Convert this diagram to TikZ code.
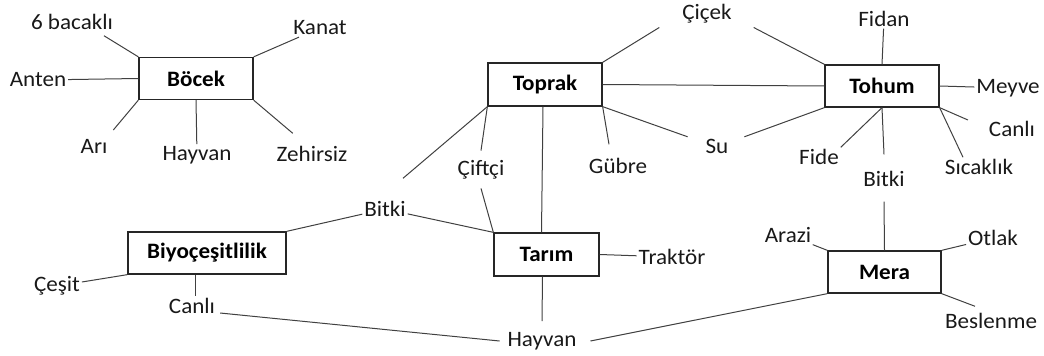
\documentclass[tikz,border=0pt]{standalone}
\usepackage{fontspec}
\setmainfont{Carlito}[FakeStretch=1.05]
\begin{document}
\begin{tikzpicture}[x=1pt,y=-1pt,
    kutu/.style={draw=black!85,line width=1.3pt,minimum height=42pt,inner sep=0pt,font=\bfseries},
    etiket/.style={inner sep=1.5pt,text=black!90},
    line width=1pt,draw=black!75]
  \fontsize{22}{26}\selectfont
  \useasboundingbox (0,0) rectangle (1044,356);
  % boxes
  \node[kutu,minimum width=114pt] (boecek) at (196,78.5) {Böcek};
  \node[kutu,minimum width=114pt,minimum height=43pt] (toprak) at (545,84.5) {Toprak};
  \node[kutu,minimum width=114pt] (tohum) at (882,86) {Tohum};
  \node[kutu,minimum width=158pt] (biyo) at (207,253) {Biyoçeşitlilik};
  \node[kutu,minimum width=105pt,minimum height=43pt] (tarim) at (546.5,254.5) {Tarım};
  \node[kutu,minimum width=113pt] (mera) at (884.5,272) {Mera};
  % words
  \node[etiket] (sixleg) at (72,22) {6 bacaklı};
  \node[etiket] (kanat) at (320,28) {Kanat};
  \node[etiket] (anten) at (38,80) {Anten};
  \node[etiket] (ari) at (94,146) {Arı};
  \node[etiket] (hayvanA) at (197,155) {Hayvan};
  \node[etiket] (zehir) at (312,154) {Zehirsiz};
  \node[etiket] (cicek) at (707,14) {Çiçek};
  \node[etiket] (ciftci) at (481,170) {Çiftçi};
  \node[etiket] (gubre) at (618,166) {Gübre};
  \node[etiket] (su) at (717,146) {Su};
  \node[etiket] (bitkiA) at (385,209) {Bitki};
  \node[etiket] (fidan) at (884,19) {Fidan};
  \node[etiket] (meyve) at (1008,88) {Meyve};
  \node[etiket] (canliA) at (1012,129) {Canlı};
  \node[etiket] (sicak) at (979,167) {Sıcaklık};
  \node[etiket] (fide) at (819,157) {Fide};
  \node[etiket] (bitkiB) at (884,179) {Bitki};
  \node[etiket] (arazi) at (788,235) {Arazi};
  \node[etiket] (otlak) at (993,238) {Otlak};
  \node[etiket] (beslen) at (991,321) {Beslenme};
  \node[etiket] (traktor) at (672,257) {Traktör};
  \node[etiket] (hayvanB) at (542,341) {Hayvan};
  \node[etiket] (cesit) at (57,286) {Çeşit};
  \node[etiket] (canliB) at (192,306) {Canlı};
  % Böcek
  \draw (boecek.north west) -- ([xshift=-11pt,yshift=-4pt]sixleg.south east);
  \draw (boecek.north east) -- (kanat);
  \draw (boecek.west) -- (anten);
  \draw (boecek.south west) -- ([xshift=4pt,yshift=7pt]ari.north east);
  \draw (boecek.south) -- (hayvanA);
  \draw (boecek.south east) -- ([xshift=18pt,yshift=11pt]zehir.north west);
  % Toprak
  \draw (toprak.north east) -- ([xshift=-21pt,yshift=-2pt]cicek.south west);
  \draw (toprak.east) -- (tohum.west);
  \draw (toprak.south west) -- ([yshift=8pt]ciftci.north);
  \draw (toprak.south west) -- ([xshift=18pt,yshift=21pt]bitkiA.north);
  \draw ([xshift=-2pt]toprak.south) -- ([xshift=-5pt]tarim.north);
  \draw (toprak.south east) -- ([xshift=-9pt,yshift=12pt]gubre.north);
  \draw (toprak.south east) -- ([xshift=-16pt]su.north west);
  % Tohum
  \draw (tohum.north west) -- ([xshift=20pt,yshift=-2pt]cicek.south east);
  \draw ([xshift=14pt]su.north east) -- (tohum.south west);
  \draw (tohum.north) -- (fidan);
  \draw (tohum.east) -- (meyve);
  \draw (tohum.south east) -- ([xshift=-19pt,yshift=9pt]canliA.west);
  \draw (tohum.south east) -- ([xshift=-16pt]sicak.north);
  \draw (tohum.south) -- (fide.north east);
  \draw (tohum.south) -- ([yshift=15pt]bitkiB.north);
  % Mera
  \draw ([yshift=-13pt]bitkiB.south) -- (mera.north);
  \draw (mera.north west) -- (arazi);
  \draw (mera.north east) -- (otlak);
  \draw (mera.south east) -- ([xshift=-16pt,yshift=5pt]beslen.north);
  \draw (mera.south west) -- ([xshift=12pt]hayvanB.east);
  % Tarım
  \draw ([yshift=-7pt]ciftci.south) -- (tarim.north west);
  \draw (bitkiA) -- (tarim.north west);
  \draw (tarim.east) -- (traktor);
  \draw ([xshift=-4pt]tarim.south) -- ([yshift=9pt]hayvanB.north);
  % Biyoçeşitlilik
  \draw (bitkiA) -- (biyo.north east);
  \draw (biyo.south west) -- (cesit);
  \draw ([xshift=-12pt]biyo.south) -- ([xshift=3pt]canliB.north);
  \draw ([xshift=3pt,yshift=-7pt]canliB.east) -- ([xshift=-6pt]hayvanB.west);
\end{tikzpicture}
\end{document}
